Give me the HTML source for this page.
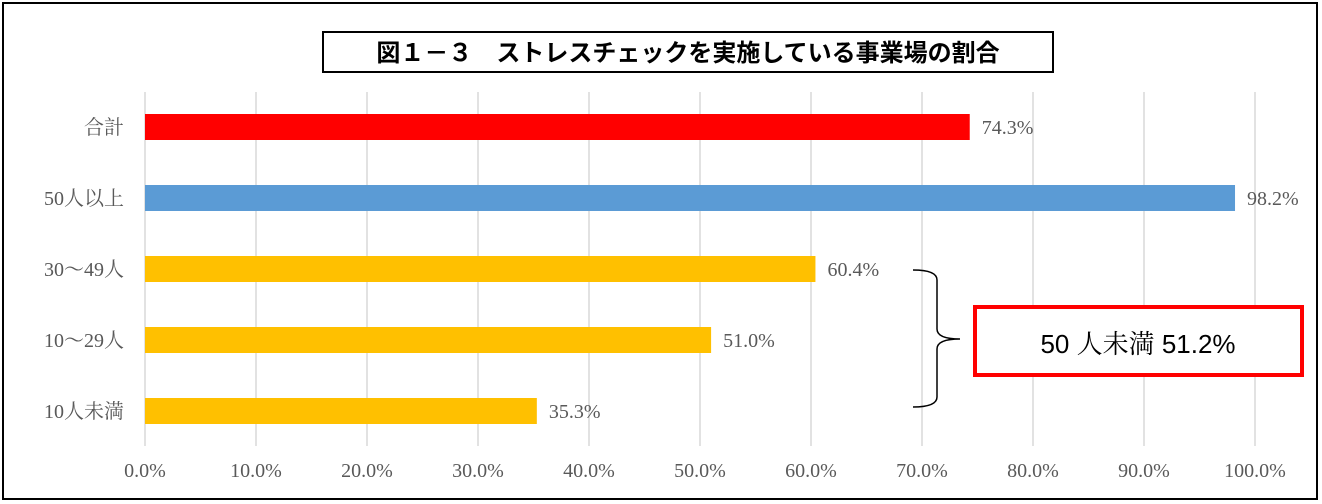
<!DOCTYPE html>
<html><head><meta charset="utf-8"><style>
body{margin:0;background:#fff;}
svg{display:block;}
.lbl{font-family:"Liberation Serif","Noto Serif CJK SC",serif;fill:#595959;font-size:20px;}
</style></head><body>
<svg id="chart" width="1322" height="504" viewBox="0 0 1322 504" xmlns="http://www.w3.org/2000/svg">
<rect x="3" y="3" width="1314" height="496" fill="#fff" stroke="#000" stroke-width="2"/>
<rect x="323" y="32" width="730" height="40" fill="#fff" stroke="#000" stroke-width="2"/>
<text x="688" y="61" text-anchor="middle" font-family="'Liberation Sans','Noto Sans CJK JP',sans-serif" font-size="24" font-weight="bold" fill="#000">図１－３　ストレスチェックを実施している事業場の割合</text>
<g id="grid"></g><g id="bars"></g><g id="labels"></g>
<path d="M913 270 Q937 270 937 280 L937 329 Q937 339 960 339 Q937 339 937 349 L937 397 Q937 407 913 407" fill="none" stroke="#000" stroke-width="1.5"/>
<rect x="975" y="307" width="327" height="68" fill="#fff" stroke="#f00" stroke-width="4"/>
<text x="1138" y="353" text-anchor="middle" font-family="'Liberation Sans','Noto Serif CJK SC',sans-serif" font-size="26" fill="#000">50 人未満 51.2%</text>
</svg>
<script>
const categories=["合計","50人以上","30～49人","10～29人","10人未満"];
const values=[74.3,98.2,60.4,51.0,35.3];
const colors=["#ff0000","#5b9bd5","#ffc000","#ffc000","#ffc000"];
const ticks=[0,10,20,30,40,50,60,70,80,90,100];
const NS="http://www.w3.org/2000/svg";
const x0=145,x100=1255,yTop=92,yBot=446,band=71,firstY=127,barH=26;
const xs=v=>x0+(x100-x0)*v/100;
const ys=i=>firstY+i*band;
function mk(t,a,p){const e=document.createElementNS(NS,t);for(const k in a)e.setAttribute(k,a[k]);p.appendChild(e);return e;}
const g=document.getElementById('grid'),b=document.getElementById('bars'),l=document.getElementById('labels');
ticks.forEach(t=>{
 const ln=mk('line',{x1:xs(t),x2:xs(t),y1:yTop,y2:yBot,stroke:'#d9d9d9','stroke-width':1.5},g);
 
 
 const tx=mk('text',{x:xs(t),y:477,'text-anchor':'middle',class:'lbl'},l);
 tx.textContent=t.toFixed(1)+'%';
 
 
});
categories.forEach((c,i)=>{
 const r=mk('rect',{x:x0,y:ys(i)-barH/2,width:xs(values[i])-x0,height:barH,fill:colors[i]},b);
 
 
 const ct=mk('text',{x:124,y:ys(i)+7,'text-anchor':'end',class:'lbl'},l);
 ct.textContent=c;
 
 
 const vt=mk('text',{x:xs(values[i])+12,y:ys(i)+7,class:'lbl'},l);
 vt.textContent=values[i].toFixed(1)+'%';
 
 
});
</script>
</body></html>
